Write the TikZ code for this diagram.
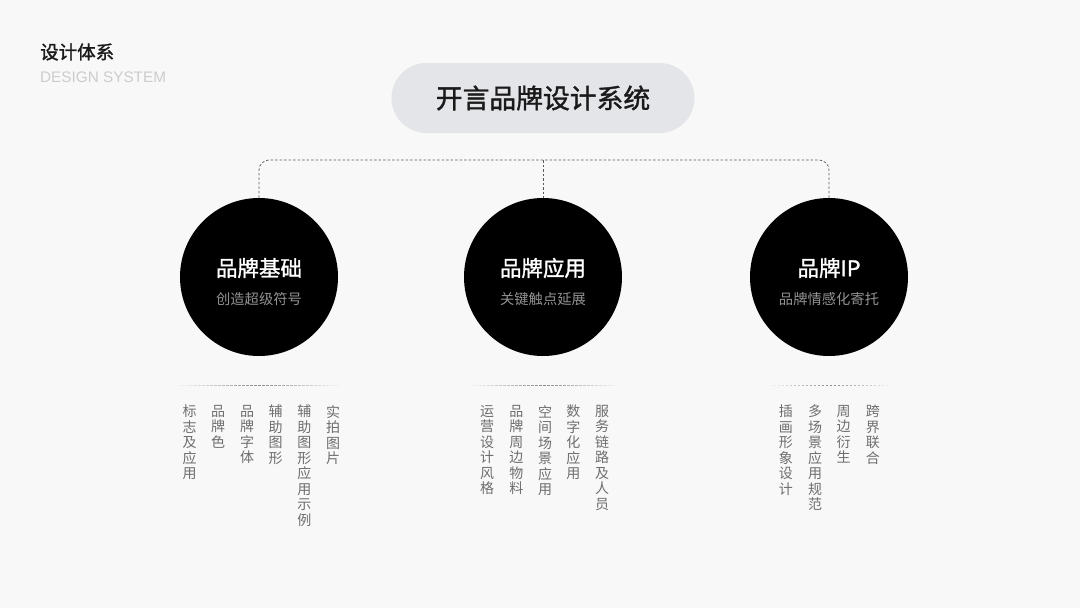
\documentclass[tikz,border=0pt]{standalone}
\usepackage{fontspec}
\setmainfont{Noto Sans CJK SC}
\newfontfamily\cjkmid[FakeBold=1.4]{Noto Sans CJK SC}
\newfontfamily\latinsans{Liberation Sans}
\usepackage{tikz}
\usetikzlibrary{calc}

\definecolor{bgcol}{HTML}{F8F8F8}
\definecolor{pillcol}{HTML}{E4E5E8}
\definecolor{inkcol}{HTML}{1A1A1A}
\definecolor{subcol}{HTML}{929292}
\definecolor{colcol}{HTML}{6E6E6E}
\definecolor{linecol}{HTML}{5A5A5A}

\tikzset{
	pill/.style={rectangle, rounded corners=35pt, fill=pillcol, minimum width=303pt, minimum height=70pt, text=inkcol, font=\cjkmid\fontsize{26.8}{30}\selectfont},
	bigdot/.style={circle, fill=black, minimum size=158pt, inner sep=0pt},
	dottitle/.style={text=white, font=\cjkmid\fontsize{21.5}{24}\selectfont, inner sep=0pt},
	dotsub/.style={text=subcol, font=\fontsize{14.3}{16}\selectfont, inner sep=0pt},
	conn/.style={linecol, line width=0.7pt, dash pattern=on 2.5pt off 2pt},
	colitem/.style={anchor=north, align=center, inner sep=0pt, text=colcol, font=\fontsize{14}{15.5}\selectfont},
}

\begin{document}
\begin{tikzpicture}[x=1pt, y=-1pt]
	\fill[bgcol] (0,0) rectangle (1080,608);
	\useasboundingbox (0,0) rectangle (1080,608);

	% heading
	\node[anchor=west, inner sep=0pt, text=inkcol, font=\cjkmid\fontsize{18.5}{20}\selectfont] (head) at (40,52) {设计体系};
	\node[anchor=west, inner sep=0pt, text=black!20, font=\latinsans\fontsize{15.3}{17}\selectfont] (headen) at (40,77) {DESIGN SYSTEM};

	% top
	\node[pill] (title) at (543,98) {开言品牌设计系统};

	% three circles
	\node[bigdot] (base) at (259,277) {};
	\node[bigdot] (app)  at (543,277) {};
	\node[bigdot] (ip)   at (829,277) {};

	\node[dottitle] (base-t) at ($(base.center)+(0,-9)$) {品牌基础};
	\node[dotsub]   (base-s) at ($(base.center)+(0,22)$) {创造超级符号};
	\node[dottitle] (app-t)  at ($(app.center)+(0,-9)$)  {品牌应用};
	\node[dotsub]   (app-s)  at ($(app.center)+(0,22)$)  {关键触点延展};
	\node[dottitle] (ip-t)   at ($(ip.center)+(0,-9)$)   {品牌IP};
	\node[dotsub]   (ip-s)   at ($(ip.center)+(0,22)$)   {品牌情感化寄托};

	% connectors
	\coordinate (hub) at (543,160);
	\draw[conn, rounded corners=10pt] (base.north) |- (hub) -| (ip.north);
	\draw[conn] (hub) -- (app.north);

	% fading rules under the circles
	\foreach \cx/\hw in {259.5/83, 544.5/73, 831/61}{
		\pgfmathtruncatemacro\n{\hw/4}
		\foreach \k in {-\n,...,\n}{
			\pgfmathsetmacro\op{1-abs(\k)/(\n+1)}
			\draw[black!45, line width=0.8pt, draw opacity=\op] (\cx+\k*4-1.2, 385) -- ++(2.4,0);
		}
	}

	% item columns
	\foreach \x/\t [count=\i] in {189.7/{标\\志\\及\\应\\用}, 218/{品\\牌\\色}, 247/{品\\牌\\字\\体}, 275.5/{辅\\助\\图\\形}, 304.3/{辅\\助\\图\\形\\应\\用\\示\\例}, 333/{实\\拍\\图\\片}}
		\node[colitem] (base-\i) at (\x,405) {\t};
	\foreach \x/\t [count=\i] in {487.2/{运\\营\\设\\计\\风\\格}, 516.3/{品\\牌\\周\\边\\物\\料}, 545/{空\\间\\场\\景\\应\\用}, 573.3/{数\\字\\化\\应\\用}, 602/{服\\务\\链\\路\\及\\人\\员}}
		\node[colitem] (app-\i) at (\x,405) {\t};
	\foreach \x/\t [count=\i] in {785.8/{插\\画\\形\\象\\设\\计}, 815/{多\\场\\景\\应\\用\\规\\范}, 843.5/{周\\边\\衍\\生}, 872.8/{跨\\界\\联\\合}}
		\node[colitem] (ip-\i) at (\x,405) {\t};
\end{tikzpicture}
\end{document}
